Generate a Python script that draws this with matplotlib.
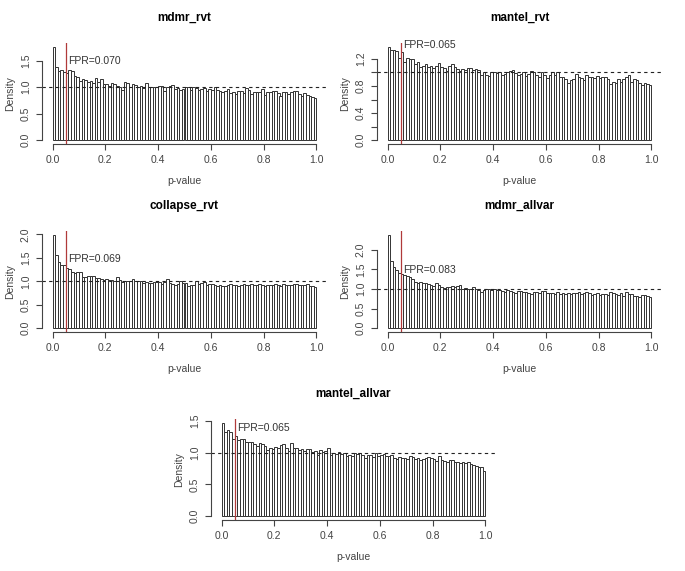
import matplotlib
matplotlib.use("Agg")
import matplotlib.pyplot as plt
import numpy as np

plt.rcParams['font.family'] = ['Liberation Sans', 'DejaVu Sans']

# bin edges of the p-value histograms (100 bins of width 0.01)
edges = np.linspace(0, 1, 101)

titles = ["mdmr_rvt", "mantel_rvt", "collapse_rvt", "mdmr_allvar", "mantel_allvar"]
fpr_labels = ["FPR=0.070", "FPR=0.065", "FPR=0.069", "FPR=0.083", "FPR=0.065"]
fpr_text_y = [1.50, 1.40, 1.48, 1.48, 1.38]
y_ticks = [
    [0.0, 0.5, 1.0, 1.5],
    [0.0, 0.2, 0.4, 0.6, 0.8, 1.0, 1.2],
    [0.0, 0.5, 1.0, 1.5, 2.0],
    [0.0, 0.5, 1.0, 1.5, 2.0],
    [0.0, 0.5, 1.0, 1.5],
]
y_ticklabels = [
    ["0.0", "0.5", "1.0", "1.5"],
    ["0.0", "", "0.4", "", "0.8", "", "1.2"],
    ["0.0", "0.5", "1.0", "1.5", "2.0"],
    ["0.0", "0.5", "1.0", "1.5", "2.0"],
    ["0.0", "0.5", "1.0", "1.5"],
]

mdmr_rvt = [
    1.76, 1.38, 1.31, 1.33, 1.29, 1.26, 1.33, 1.30, 1.20, 1.19,
    1.12, 1.16, 1.14, 1.10, 1.11, 1.07, 1.18, 1.10, 1.15, 1.06,
    1.05, 1.02, 1.08, 1.06, 1.03, 1.00, 0.95, 1.10, 1.08, 1.01,
    1.06, 1.04, 1.00, 1.02, 0.98, 1.07, 1.00, 1.01, 1.01, 1.01,
    1.02, 1.02, 0.93, 1.00, 1.02, 1.04, 0.97, 0.99, 0.94, 0.96,
    1.01, 1.00, 0.95, 1.00, 0.98, 0.94, 0.96, 0.98, 0.93, 0.96,
    0.95, 1.00, 0.94, 0.92, 0.91, 0.92, 0.97, 0.89, 0.91, 0.87,
    0.92, 0.93, 0.89, 0.99, 0.95, 0.87, 0.91, 0.90, 0.90, 0.97,
    0.85, 0.90, 0.91, 0.92, 0.92, 0.89, 0.84, 0.90, 0.91, 0.87,
    0.91, 0.92, 0.93, 0.87, 0.84, 0.88, 0.86, 0.83, 0.81, 0.80,
]
mantel_rvt = [
    1.38, 1.33, 1.33, 1.32, 1.22, 1.30, 1.15, 1.21, 1.20, 1.20,
    1.12, 1.15, 1.08, 1.10, 1.12, 1.08, 1.10, 1.06, 1.10, 1.14,
    1.08, 1.06, 1.02, 1.10, 1.12, 1.08, 1.05, 1.02, 1.05, 1.04,
    1.06, 1.07, 1.03, 1.05, 1.03, 0.97, 1.00, 0.97, 0.95, 1.00,
    1.00, 0.99, 1.00, 0.96, 0.98, 1.00, 1.02, 1.03, 0.99, 0.96,
    0.98, 1.01, 0.95, 0.98, 1.02, 1.00, 0.96, 0.94, 1.00, 0.97,
    0.92, 0.96, 1.00, 0.97, 1.01, 0.94, 0.93, 0.90, 0.85, 0.89,
    0.91, 0.98, 0.93, 0.92, 0.89, 0.96, 0.93, 0.94, 0.92, 0.95,
    0.92, 0.94, 0.93, 0.91, 0.83, 0.86, 0.85, 0.91, 0.86, 0.91,
    0.94, 0.96, 0.86, 0.90, 0.89, 0.85, 0.82, 0.84, 0.83, 0.82,
]
collapse_rvt = [
    1.99, 1.56, 1.40, 1.35, 1.35, 1.28, 1.26, 1.20, 1.17, 1.19,
    1.19, 1.09, 1.10, 1.12, 1.11, 1.11, 1.07, 1.06, 1.04, 1.03,
    1.04, 1.02, 1.02, 1.00, 1.09, 1.03, 0.98, 1.00, 1.00, 1.00,
    1.05, 1.01, 1.00, 1.00, 0.97, 0.98, 0.97, 0.96, 0.99, 0.98,
    0.98, 0.95, 0.98, 1.04, 0.97, 0.95, 0.93, 0.95, 1.00, 0.96,
    0.96, 0.90, 0.92, 0.91, 1.00, 0.95, 0.96, 0.99, 0.93, 0.94,
    0.95, 0.92, 0.90, 0.93, 0.90, 0.90, 0.92, 0.95, 0.91, 0.93,
    0.89, 0.92, 0.95, 0.92, 0.91, 0.94, 0.91, 0.93, 0.95, 0.92,
    0.90, 0.91, 0.93, 0.91, 0.94, 0.93, 0.90, 0.95, 0.91, 0.92,
    0.91, 0.94, 0.95, 0.93, 0.91, 0.92, 0.94, 0.90, 0.89, 0.88,
]
mdmr_allvar = [
    2.38, 1.72, 1.55, 1.48, 1.40, 1.38, 1.35, 1.32, 1.30, 1.26,
    1.18, 1.15, 1.17, 1.15, 1.16, 1.12, 1.10, 1.07, 1.16, 1.10,
    1.05, 1.03, 1.06, 1.04, 1.08, 1.06, 1.08, 1.10, 1.01, 1.02,
    1.00, 1.01, 1.04, 1.00, 0.98, 0.93, 0.98, 1.01, 1.00, 0.98,
    0.99, 0.97, 0.97, 0.96, 0.92, 0.97, 0.95, 0.93, 0.91, 0.96,
    0.95, 0.93, 0.92, 0.91, 0.88, 0.92, 0.93, 0.90, 0.95, 0.96,
    0.91, 0.90, 0.91, 0.86, 0.92, 0.88, 0.91, 0.86, 0.89, 0.88,
    0.90, 0.90, 0.92, 0.88, 0.91, 0.92, 0.90, 0.84, 0.88, 0.89,
    0.84, 0.86, 0.88, 0.85, 0.92, 0.89, 0.86, 0.84, 0.90, 0.82,
    0.93, 0.86, 0.88, 0.81, 0.83, 0.80, 0.84, 0.85, 0.83, 0.80,
]
mantel_allvar = [
    1.47, 1.32, 1.36, 1.32, 1.22, 1.26, 1.20, 1.22, 1.21, 1.17,
    1.17, 1.16, 1.13, 1.11, 1.15, 1.13, 1.10, 1.04, 1.08, 1.06,
    1.09, 1.07, 1.12, 1.14, 1.07, 1.02, 1.15, 1.08, 1.07, 1.04,
    1.05, 1.03, 1.06, 1.06, 1.01, 1.03, 0.97, 1.04, 1.01, 1.03,
    1.07, 0.96, 0.99, 0.98, 1.01, 0.98, 1.00, 0.94, 0.97, 0.95,
    1.00, 0.98, 1.00, 0.96, 0.92, 0.96, 0.97, 0.93, 0.99, 0.95,
    0.97, 0.98, 0.95, 0.94, 0.96, 0.92, 0.90, 0.93, 0.91, 0.92,
    0.90, 0.95, 0.93, 0.90, 0.91, 0.88, 0.90, 0.92, 0.93, 0.92,
    0.90, 0.87, 0.94, 0.88, 0.87, 0.86, 0.88, 0.89, 0.86, 0.86,
    0.84, 0.86, 0.83, 0.85, 0.82, 0.80, 0.79, 0.78, 0.77, 0.71,
]
densities = [mdmr_rvt, mantel_rvt, collapse_rvt, mdmr_allvar, mantel_allvar]

W, H = 685, 571
fig = plt.figure(figsize=(W / 100, H / 100), dpi=100)

# plot regions in pixels: (left, bottom-from-top)
regions = [(42, 144), (377, 144), (42, 332), (377, 332), (211, 520)]
reg_w, reg_h = 285, 101

for i, (dens, title) in enumerate(zip(densities, titles)):
    left, bottom = regions[i]
    ax = fig.add_axes([left / W, 1 - bottom / H, reg_w / W, reg_h / H])
    ymax = max(dens)
    ax.bar(edges[:-1], dens, width=np.diff(edges), align='edge',
           facecolor='white', edgecolor='#333333', linewidth=0.7)
    ax.axvline(0.05, color='#b03a3a', linewidth=0.9)
    ax.axhline(1.0, color='#222222', linewidth=0.8, linestyle=(0, (3, 3)))
    ax.text(0.06, fpr_text_y[i], fpr_labels[i], fontsize=7.5, color='#333333',
            ha='left', va='center')

    ax.set_xlim(-0.04, 1.04)
    ax.set_ylim(-0.04 * ymax, 1.04 * ymax)
    ax.set_xticks([0.0, 0.2, 0.4, 0.6, 0.8, 1.0])
    ax.set_xticklabels(["0.0", "0.2", "0.4", "0.6", "0.8", "1.0"])
    ax.set_yticks(y_ticks[i])
    ax.set_yticklabels(y_ticklabels[i], rotation=90, va='center')

    for s in ['top', 'right']:
        ax.spines[s].set_visible(False)
    ax.spines['left'].set_bounds(y_ticks[i][0], y_ticks[i][-1])
    ax.spines['bottom'].set_bounds(0, 1)
    for s in ['left', 'bottom']:
        ax.spines[s].set_color('#444444')
        ax.spines[s].set_linewidth(0.8)
    ax.tick_params(direction='out', length=4, width=0.8, colors='#444444',
                   labelsize=7.5, pad=4)

    ax.set_title(title, fontsize=8.5, fontweight='bold', pad=16)
    ax.set_xlabel("p-value", fontsize=7.5, color='#444444', labelpad=8)
    ax.set_ylabel("Density", fontsize=7.5, color='#444444', labelpad=4)

fig.savefig("out.png", dpi=100)
